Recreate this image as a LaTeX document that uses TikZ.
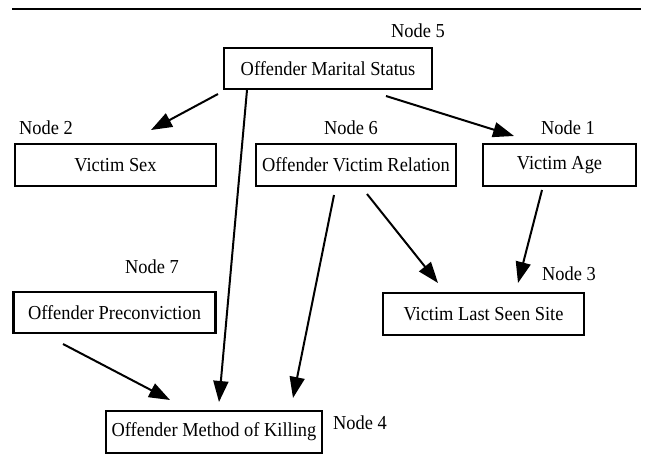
\documentclass[tikz,border=0pt]{standalone}
\usepackage{fontspec}
\setmainfont[FakeStretch=0.93]{Liberation Serif}
\usetikzlibrary{arrows.meta}
\begin{document}
\begin{tikzpicture}[x=1pt,y=-1pt,
  varbox/.style={draw,line width=2.5pt,inner sep=0pt,font=\fontsize{19.8}{21}\selectfont},
  nlabel/.style={inner sep=0pt,font=\fontsize{19.8}{21}\selectfont},
  link/.style={line width=2pt,-{Triangle[length=21pt,width=15pt]}}]
\useasboundingbox (0,0) rectangle (650,454);
\draw[line width=1.5pt] (12,9) -- (641,9);
% boxes
\node[varbox,minimum width=208pt,minimum height=41pt] (n5) at (328,68.5) {Offender Marital Status};
\node[varbox,minimum width=201pt,minimum height=42pt] (n2) at (115.5,165) {Victim Sex};
\node[varbox,minimum width=200pt,minimum height=42pt] (n6) at (356,165) {Offender Victim Relation};
\node[varbox,minimum width=153pt,minimum height=42pt] (n1) at (559.5,165) {Victim Age};
\node[varbox,minimum width=202pt,minimum height=41pt] (n7) at (114.5,312.5) {Offender Preconviction};
\node[varbox,minimum width=201pt,minimum height=42pt] (n3) at (483.5,314) {Victim Last Seen Site};
\node[varbox,minimum width=216pt,minimum height=42pt] (n4) at (214,432) {Offender Method of Killing};
% labels
\node[nlabel] (l5) at (418,31) {Node 5};
\node[nlabel] (l2) at (46,128) {Node 2};
\node[nlabel] (l6) at (351,128) {Node 6};
\node[nlabel] (l1) at (568,128) {Node 1};
\node[nlabel] (l7) at (152,267) {Node 7};
\node[nlabel] (l3) at (569,274) {Node 3};
\node[nlabel] (l4) at (360,423) {Node 4};
% connector ends
\coordinate (s52) at (218,94);  \coordinate (t52) at (151,130);
\coordinate (s51) at (386,96);  \coordinate (t51) at (514,136);
\coordinate (s54) at (247,90);  \coordinate (t54) at (219,402);
\coordinate (s64) at (334,195); \coordinate (t64) at (293,398);
\coordinate (s63) at (367,194); \coordinate (t63) at (438,283);
\coordinate (s13) at (542,190); \coordinate (t13) at (518,283);
\coordinate (s74) at (63,344);  \coordinate (t74) at (170,400);
\draw[link] (s52) -- (t52);
\draw[link] (s51) -- (t51);
\draw[link] (s54) -- (t54);
\draw[link] (s64) -- (t64);
\draw[link] (s63) -- (t63);
\draw[link] (s13) -- (t13);
\draw[link] (s74) -- (t74);
\end{tikzpicture}
\end{document}
